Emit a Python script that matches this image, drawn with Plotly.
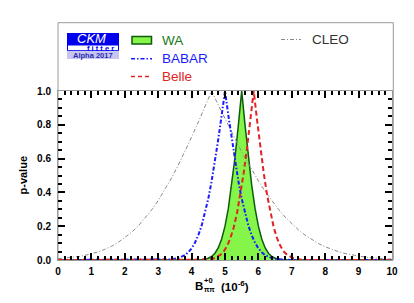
import plotly.graph_objects as go

# ---------------- data ----------------
wa_x = [0.0, 4.1, 4.3, 4.5, 4.6, 4.7, 4.8, 4.9, 5.0, 5.1, 5.2, 5.3, 5.4, 5.5,
        5.6, 5.7, 5.8, 5.9, 6.0, 6.1, 6.2, 6.3, 6.4, 6.5, 6.7, 6.9, 10.0]
wa_p = [0.0, 0.0003, 0.0021, 0.0103, 0.021, 0.040, 0.073, 0.124, 0.200, 0.305, 0.442, 0.608, 0.798, 1.0,
        0.798, 0.608, 0.442, 0.305, 0.200, 0.124, 0.073, 0.040, 0.021, 0.0103, 0.0021, 0.0003, 0.0]

babar_x = [0.0, 3.0, 3.2, 3.4, 3.6, 3.8, 3.9, 4.0, 4.1, 4.2, 4.3, 4.4, 4.5, 4.6, 4.7, 4.8, 4.9, 5.0,
           5.1, 5.2, 5.3, 5.4, 5.5, 5.6, 5.7, 5.8, 5.9, 6.0, 6.1, 6.2, 6.4, 6.6, 6.8, 7.0, 10.0]
babar_p = [0.0, 0.0003, 0.001, 0.0036, 0.011, 0.029, 0.0455, 0.069, 0.102, 0.146, 0.203, 0.275, 0.363, 0.467, 0.586, 0.716, 0.856, 1.0,
           0.856, 0.716, 0.586, 0.467, 0.363, 0.275, 0.203, 0.146, 0.102, 0.069, 0.0455, 0.029, 0.011, 0.0036, 0.001, 0.0003, 0.0]

belle_x = [0.0, 4.26, 4.46, 4.66, 4.86, 4.96, 5.06, 5.16, 5.26, 5.36, 5.46, 5.56, 5.66, 5.76, 5.86,
           5.96, 6.06, 6.16, 6.26, 6.36, 6.46, 6.56, 6.66, 6.76, 6.86, 7.06, 7.26, 7.46, 10.0]
belle_p = [0.0, 0.0005, 0.0024, 0.0091, 0.030, 0.050, 0.082, 0.128, 0.192, 0.277, 0.384, 0.514, 0.664, 0.828, 1.0,
           0.828, 0.664, 0.514, 0.384, 0.277, 0.192, 0.128, 0.082, 0.050, 0.030, 0.0091, 0.0024, 0.0005, 0.0]

cleo_x = [0.0, 0.2, 0.4, 0.6, 0.8, 1.0, 1.2, 1.4, 1.6, 1.8, 2.0, 2.2, 2.4, 2.6, 2.8, 3.0, 3.2, 3.4, 3.6, 3.8, 4.0, 4.2, 4.4, 4.6,
          4.8, 5.0, 5.2, 5.4, 5.6, 5.8, 6.0, 6.2, 6.4, 6.6, 6.8, 7.0, 7.2, 7.4, 7.6, 7.8, 8.0, 8.2, 8.4, 8.6, 8.8, 9.0, 9.2, 9.4, 9.6, 9.8, 10.0]
cleo_p = [0.0075, 0.0105, 0.0146, 0.020, 0.027, 0.036, 0.048, 0.063, 0.081, 0.104, 0.131, 0.163, 0.201, 0.245, 0.295, 0.352, 0.416, 0.485, 0.561, 0.642, 0.727, 0.816, 0.907, 1.0,
          0.917, 0.836, 0.756, 0.678, 0.604, 0.534, 0.468, 0.407, 0.351, 0.300, 0.254, 0.214, 0.178, 0.147, 0.120, 0.097, 0.078, 0.062, 0.049, 0.038, 0.030, 0.023, 0.017, 0.013, 0.0096, 0.0071, 0.0051]

x_ticks = [0, 1, 2, 3, 4, 5, 6, 7, 8, 9, 10]
y_ticks = [0.0, 0.2, 0.4, 0.6, 0.8, 1.0]

# ---------------- figure ----------------
W, H = 414, 303
L, R, T, B = 58, 22, 91, 43
PW, PH = W - L - R, H - T - B

def px(xp):
    return (xp - L) / PW

def py(yp):
    return (H - B - yp) / PH

FONT = "Liberation Sans, Arial, Helvetica, sans-serif"
GREEN_FILL = "#86f54a"
GREEN_LINE = "#0d5c0d"
BLUE = "#1a1aff"
RED = "#e02424"
GREY = "#8a8a8a"

fig = go.Figure()
fig.add_trace(go.Scatter(x=wa_x, y=wa_p, mode="lines", fill="tozeroy", fillcolor=GREEN_FILL,
                         line=dict(color=GREEN_LINE, width=1.5), name="WA"))
fig.add_trace(go.Scatter(x=cleo_x, y=cleo_p, mode="lines",
                         line=dict(color=GREY, width=1, dash="4px,2px,1px,2px"), name="CLEO"))
fig.add_trace(go.Scatter(x=babar_x, y=babar_p, mode="lines",
                         line=dict(color=BLUE, width=2, dash="4px,2px,1.5px,2px"), name="BABAR"))
fig.add_trace(go.Scatter(x=belle_x, y=belle_p, mode="lines",
                         line=dict(color=RED, width=2, dash="5px,3px"), name="Belle"))

axis_common = dict(showgrid=False, zeroline=False, showline=True, linecolor="#9a9a9a", linewidth=1,
                   mirror="ticks", ticks="inside", tickcolor="black", tickwidth=2, ticklen=7,
                   tickfont=dict(family=FONT, size=10, color="black", weight="bold"))

fig.update_xaxes(range=[0, 10], tickvals=x_ticks, ticktext=[str(v) for v in x_ticks],
                 minor=dict(dtick=0.2, ticks="inside", ticklen=4, tickwidth=2, tickcolor="black"),
                 ticklabelstandoff=2, **axis_common)
fig.update_yaxes(range=[0, 1.0], tickvals=y_ticks, ticktext=[f"{v:.1f}" for v in y_ticks],
                 minor=dict(dtick=0.05, ticks="inside", ticklen=4, tickwidth=2, tickcolor="black"),
                 ticklabelstandoff=4, **axis_common)

shapes = []
# legend frame (grey box)
shapes.append(dict(type="rect", xref="paper", yref="paper", x0=0, x1=px(393.3), y0=0, y1=py(22.7),
                   line=dict(color="#9a9a9a", width=1), fillcolor="rgba(0,0,0,0)", layer="below"))
# CKMfitter logo
shapes.append(dict(type="rect", xref="paper", yref="paper", x0=px(67), x1=px(119), y0=py(45), y1=py(33),
                   line=dict(width=0), fillcolor="#0000ee"))
shapes.append(dict(type="rect", xref="paper", yref="paper", x0=px(67.5), x1=px(118.5), y0=py(50.7), y1=py(45),
                   line=dict(color="#0000ee", width=1), fillcolor="white"))
shapes.append(dict(type="rect", xref="paper", yref="paper", x0=px(67), x1=px(119), y0=py(59), y1=py(51.2),
                   line=dict(width=0), fillcolor="#c6c6f0"))
# legend symbols
shapes.append(dict(type="rect", xref="paper", yref="paper", x0=px(132), x1=px(151.5), y0=py(44), y1=py(36.5),
                   line=dict(color=GREEN_LINE, width=1.5), fillcolor=GREEN_FILL))
shapes.append(dict(type="line", xref="paper", yref="paper", x0=px(131), x1=px(152), y0=py(58.7), y1=py(58.7),
                   line=dict(color=BLUE, width=1.5, dash="4px,2px,1.5px,2px")))
shapes.append(dict(type="line", xref="paper", yref="paper", x0=px(131), x1=px(152), y0=py(76.5), y1=py(76.5),
                   line=dict(color=RED, width=1.5, dash="4px,3px")))
shapes.append(dict(type="line", xref="paper", yref="paper", x0=px(281), x1=px(301), y0=py(39.5), y1=py(39.5),
                   line=dict(color=GREY, width=1, dash="4px,2px,1px,2px")))
fig.update_layout(shapes=shapes)

ann = []
def text(t, xp, yp, size, color="black", xanchor="left", bold=False, italic=False, angle=0):
    ann.append(dict(text=t, x=px(xp), y=py(yp), xref="paper", yref="paper", showarrow=False,
                    xanchor=xanchor, yanchor="middle", textangle=angle,
                    font=dict(family=FONT, size=size, color=color,
                              weight="bold" if bold else "normal",
                              style="italic" if italic else "normal")))

text("CKM", 91, 38.8, 13, color="white", xanchor="center", italic=True)
text("f i t t e r", 100, 48, 7.5, color="#0000ee", xanchor="center", bold=True)
text("Alpha 2017", 93, 55.2, 7.5, color="#2a2ab0", xanchor="center", bold=True)

text("WA", 160, 40.5, 13.5, color="#177a17")
text("BABAR", 160, 58.7, 13.5, color=BLUE)
text("Belle", 160, 76.5, 13.5, color=RED)
text("CLEO", 310, 39.5, 13.5, color="#333333")

text("p-value", 22.5, 175, 11, xanchor="center", bold=True, angle=-90)
text("B", 193, 285.5, 11.5, bold=True)
text("+0", 201.5, 280, 7.5, bold=True)
text("ππ", 201.5, 289.5, 7, bold=True)
text("(10<sup>-6</sup>)", 219, 285.5, 11.5, bold=True)

fig.update_layout(annotations=ann, width=W, height=H,
                  margin=dict(l=L, r=R, t=T, b=B, pad=0),
                  paper_bgcolor="white", plot_bgcolor="white", showlegend=False)

fig.write_html("out.html", config={"displayModeBar": False},
               post_script="document.body.style.margin='0px';document.body.style.overflow='hidden';")
